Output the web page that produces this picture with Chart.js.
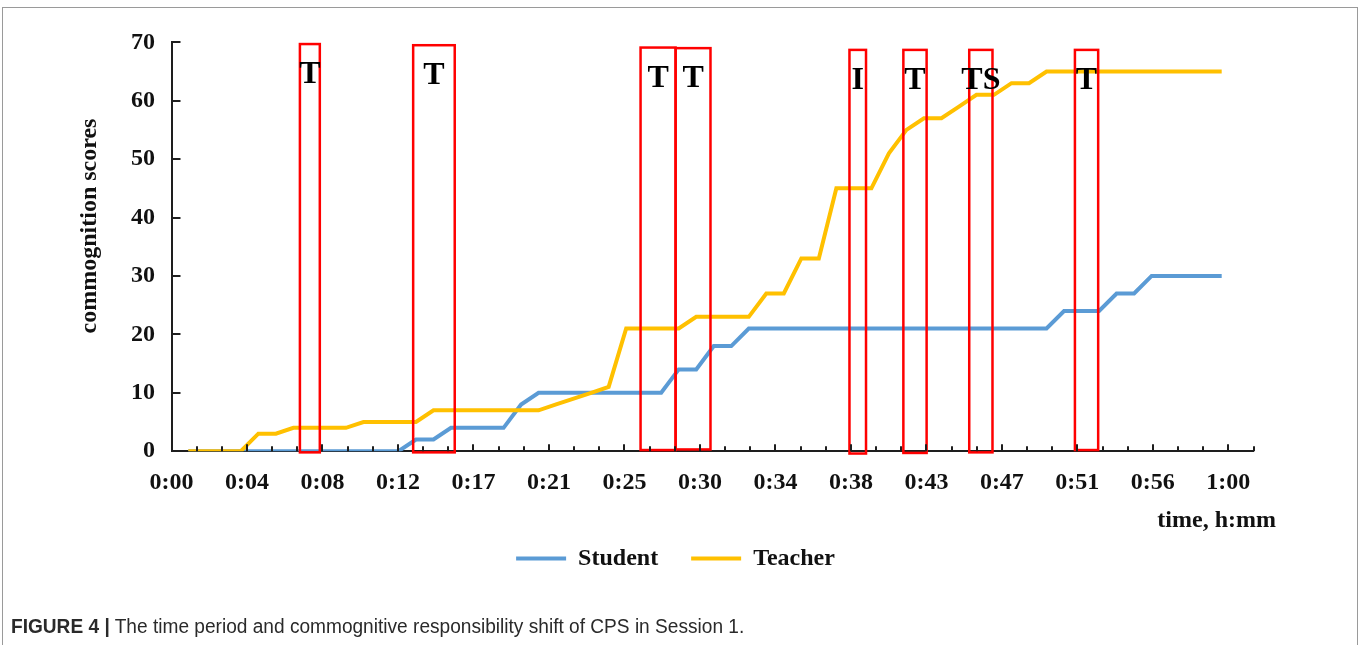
<!DOCTYPE html>
<html><head><meta charset="utf-8">
<script src="https://cdn.jsdelivr.net/npm/chart.js@4.4.1/dist/chart.umd.min.js"></script>
<style>
html,body{margin:0;padding:0;background:#fff;}
#wrap{position:relative;width:1360px;height:645px;overflow:hidden;background:#fff;}
#frame{position:absolute;left:2px;top:7px;width:1356px;height:700px;border:1px solid #9a9a9a;box-sizing:border-box;}
#c{position:absolute;left:0;top:0;}
#caption{position:absolute;left:11px;top:615px;font-family:'Liberation Sans',Arial,sans-serif;font-size:20px;color:#2a2a2a;white-space:nowrap;transform:scaleX(0.955);transform-origin:0 0;}
</style></head><body>
<div id="wrap"><div id="frame"></div><canvas id="c" width="1360" height="645"></canvas>
<div id="caption"><b>FIGURE 4 |</b> The time period and commognitive responsibility shift of CPS in Session 1.</div></div>
<script>
// ---- data ----
const minutes = [1,2,3,4,5,6,7,8,9,10,11,12,13,14,15,16,17,18,19,20,21,22,23,24,25,26,27,28,29,30,31,32,33,34,35,36,37,38,39,40,41,42,43,44,45,46,47,48,49,50,51,52,53,54,55,56,57,58,59,60];
const studentScores = [0,0,0,0,0,0,0,0,0,0,0,0,0,2,2,4,4,4,4,8,10,10,10,10,10,10,10,10,14,14,18,18,21,21,21,21,21,21,21,21,21,21,21,21,21,21,21,21,21,21,24,24,24,27,27,30,30,30,30,30];
const teacherScores = [0,0,0,0,3,3,4,4,4,4,5,5,5,5,7,7,7,7,7,7,7,8,9,10,11,21,21,21,21,23,23,23,23,27,27,33,33,45,45,45,51,55,57,57,59,61,61,63,63,65,65,65,65,65,65,65,65,65,65,65];
const tickLabels = ['0:00','0:04','0:08','0:12','0:17','0:21','0:25','0:30','0:34','0:38','0:43','0:47','0:51','0:56','1:00'];
const yTickValues = [0,10,20,30,40,50,60,70];
// shift periods (minutes on the time axis, score units on the y axis)
const periodLabels = ['T','T','T','T','I','T','TS','T'];
const periodStart  = [7.29, 13.72, 26.63, 28.62, 38.49, 41.55, 45.29, 51.29];
const periodEnd    = [8.42, 16.08, 28.62, 30.60, 39.43, 42.87, 46.61, 52.61];
const periodTop    = [69.7, 69.5, 69.1, 69.0, 68.7, 68.7, 68.7, 68.7];
const periodBottom = [-0.2, -0.2, 0.2, 0.3, -0.4, -0.3, -0.2, 0.2];

const SERIF = "'Liberation Serif','Times New Roman',serif";
const AXIS_COLOR = '#1e1e1e';

const decor = {
  id: 'decor',
  afterDatasetsDraw(chart) {
    const ctx = chart.ctx, x = chart.scales.x, y = chart.scales.y;
    ctx.save();
    ctx.strokeStyle = '#ff0000';
    ctx.lineWidth = 2.5;
    for (let i = 0; i < periodLabels.length; i++) {
      const l = x.getPixelForValue(periodStart[i]), r = x.getPixelForValue(periodEnd[i]);
      const t = y.getPixelForValue(periodTop[i]), b = y.getPixelForValue(periodBottom[i]);
      ctx.strokeRect(l, t, r - l, b - t);
    }
    ctx.fillStyle = '#000';
    ctx.font = 'bold 32px ' + SERIF;
    ctx.textAlign = 'center';
    ctx.textBaseline = 'middle';
    for (let i = 0; i < periodLabels.length; i++) {
      const cx = (x.getPixelForValue(periodStart[i]) + x.getPixelForValue(periodEnd[i])) / 2;
      const t = y.getPixelForValue(periodTop[i]);
      ctx.fillText(periodLabels[i], cx, t + 31);
    }
    ctx.restore();
  },
  afterDraw(chart) {
    const ctx = chart.ctx, x = chart.scales.x, y = chart.scales.y, a = chart.chartArea;
    ctx.save();
    ctx.strokeStyle = AXIS_COLOR;
    ctx.lineWidth = 2;
    // x tick marks (minor every 1/42 h, major every 3rd), pointing up
    for (let k = 1; k <= 43; k++) {
      const px = Math.round(x.getPixelForValue(k * 60 / 42));
      const len = (k % 3 === 0) ? 7 : 5;
      ctx.beginPath(); ctx.moveTo(px, a.bottom); ctx.lineTo(px, a.bottom - len); ctx.stroke();
    }
    // y tick marks pointing right
    yTickValues.forEach(v => {
      const py = Math.round(y.getPixelForValue(v));
      ctx.beginPath(); ctx.moveTo(a.left, py); ctx.lineTo(a.left + 9, py); ctx.stroke();
    });
    // axis titles
    ctx.fillStyle = '#111';
    ctx.font = 'bold 24px ' + SERIF;
    ctx.textBaseline = 'middle';
    ctx.textAlign = 'right';
    ctx.fillText('time, h:mm', 1276, 521);
    ctx.translate(90, 226);
    ctx.rotate(-Math.PI / 2);
    ctx.textAlign = 'center';
    ctx.fillText('commognition scores', 0, 0);
    ctx.restore();
  }
};

new Chart(document.getElementById('c'), {
  type: 'line',
  data: {
    datasets: [
      { label: 'Student', data: minutes.map((m, i) => ({x: m, y: studentScores[i]})),
        borderColor: '#5b9bd5', backgroundColor: '#5b9bd5', borderWidth: 4, pointRadius: 0, tension: 0, xAxisID: 'xd', order: 1 },
      { label: 'Teacher', data: minutes.map((m, i) => ({x: m, y: teacherScores[i]})),
        borderColor: '#ffc000', backgroundColor: '#ffc000', borderWidth: 4, pointRadius: 0, tension: 0, xAxisID: 'xd', order: 0 }
    ]
  },
  options: {
    responsive: false,
    animation: false,
    devicePixelRatio: 1,
    layout: { padding: { left: 97.5, right: 106.5, top: 42.3, bottom: 64.5 } },
    plugins: {
      tooltip: { enabled: false },
      legend: {
        position: 'bottom',
        labels: {
          boxWidth: 50, boxHeight: 4, padding: 33, color: '#111',
          font: { family: SERIF, size: 24, weight: 'bold' },
          sort: (p, q) => p.datasetIndex - q.datasetIndex,
          generateLabels: (chart) => Chart.defaults.plugins.legend.labels.generateLabels(chart)
            .map(l => Object.assign(l, { lineWidth: 0, fillStyle: l.strokeStyle }))
        }
      }
    },
    scales: {
      x: {
        type: 'linear', position: 'bottom', min: 0, max: 43 * 60 / 42,
        afterBuildTicks: (s) => { s.ticks = tickLabels.map((_, i) => ({ value: i * 60 / 14 })); },
        ticks: { autoSkip: false, maxRotation: 0, padding: 17, color: '#111',
                 font: { family: SERIF, size: 24, weight: 'bold' },
                 callback: (v, i) => tickLabels[i] },
        grid: { display: false, drawTicks: false },
        border: { display: true, color: AXIS_COLOR, width: 2 },
        afterFit: (s) => { s.height = 62.3; }
      },
      xd: { type: 'linear', display: false, min: 0.041, max: 61.816 },
      y: {
        min: 0, max: 70,
        afterBuildTicks: (s) => { s.ticks = yTickValues.map(v => ({ value: v })); },
        ticks: { padding: 16.5, color: '#111', font: { family: SERIF, size: 24, weight: 'bold' } },
        grid: { display: false, drawTicks: false },
        border: { display: true, color: AXIS_COLOR, width: 2 },
        afterFit: (s) => { s.width = 74; }
      }
    }
  },
  plugins: [decor]
});
</script>
</body></html>
